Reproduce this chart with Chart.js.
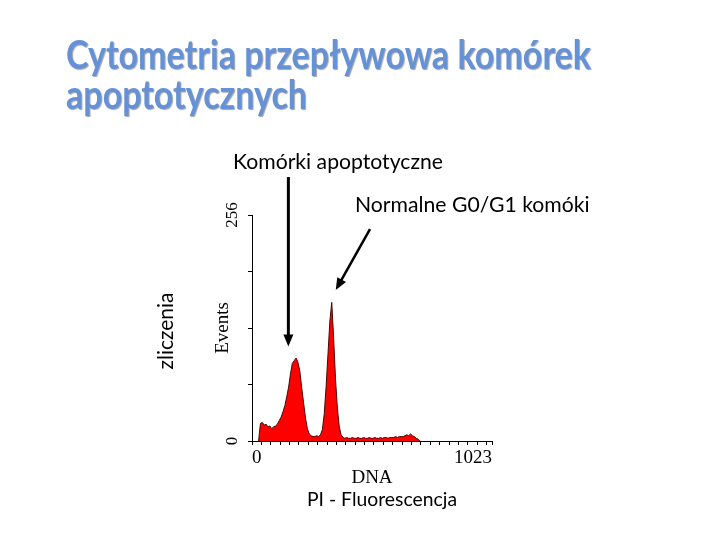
<!DOCTYPE html>
<html>
<head>
<meta charset="utf-8">
<script src="https://cdn.jsdelivr.net/npm/chart.js@4.4.1/dist/chart.umd.min.js"></script>
<style>
  html, body { margin: 0; padding: 0; background: #fff; }
  #wrap { width: 720px; height: 540px; }
</style>
</head>
<body>
<div id="wrap"><canvas id="myChart" width="720" height="540"></canvas></div>
<script>
// DNA histogram (PI fluorescence), bins of 8 channels, value = events per bin
var binStart = 24;
var binWidth = 8;
var counts = [
  0, 20, 21, 18, 19, 16, 17, 14, 16, 17,
  19, 23, 27, 33, 40, 50, 61, 76, 88, 91,
  94, 89, 79, 60, 43, 26, 14, 8, 6, 5,
  5, 6, 5, 7, 13, 31, 62, 99, 136, 157,
  116, 70, 37, 16, 7, 4, 3, 4, 3, 3,
  4, 3, 3, 4, 3, 3, 4, 3, 3, 4,
  3, 3, 4, 3, 3, 4, 3, 4, 4, 3,
  4, 4, 4, 5, 4, 5, 5, 5, 6, 7,
  6, 8, 6, 5, 3, 2, 0
];
var xMax = 1023;
var yMax = 256;
var yTickStep = 64;
var xTickStep = 40;
var xTickLabels = ['0', '1023'];
var yTickLabels = ['0', '256'];

var points = counts.map(function (c, i) {
  return { x: binStart + i * binWidth + binWidth / 2, y: c };
});

var sansFont = 'Lato, "Open Sans", sans-serif';
var serifFont = '"Liberation Serif", "DejaVu Serif", serif';

function fitText(ctx, text, x, y, width, sx) {
  // squeeze text horizontally so it matches the width of the original slide font
  var w = ctx.measureText(text).width;
  var s = sx || width / w;
  ctx.save();
  ctx.translate(x, y);
  ctx.scale(s, 1);
  ctx.fillText(text, 0, 0);
  ctx.restore();
  return s;
}

function arrow(ctx, x1, y1, x2, y2, lw) {
  var a = Math.atan2(y2 - y1, x2 - x1);
  var len = 12, half = 5;
  ctx.save();
  ctx.strokeStyle = '#000';
  ctx.fillStyle = '#000';
  ctx.lineWidth = lw;
  ctx.beginPath();
  ctx.moveTo(x1, y1);
  ctx.lineTo(x2 - Math.cos(a) * len * 0.8, y2 - Math.sin(a) * len * 0.8);
  ctx.stroke();
  ctx.beginPath();
  ctx.moveTo(x2, y2);
  ctx.lineTo(x2 - Math.cos(a) * len - Math.sin(a) * half, y2 - Math.sin(a) * len + Math.cos(a) * half);
  ctx.lineTo(x2 - Math.cos(a) * len + Math.sin(a) * half, y2 - Math.sin(a) * len - Math.cos(a) * half);
  ctx.closePath();
  ctx.fill();
  ctx.restore();
}

var slideText = {
  id: 'slideText',
  beforeDraw: function (chart) {
    var ctx = chart.ctx;
    ctx.save();
    ctx.fillStyle = '#fff';
    ctx.fillRect(0, 0, chart.width, chart.height);
    ctx.restore();
  },
  afterDraw: function (chart) {
    var ctx = chart.ctx;
    var xs = chart.scales.x, ys = chart.scales.y;
    ctx.save();
    ctx.textBaseline = 'alphabetic';
    ctx.textAlign = 'left';

    // slide title
    ctx.font = 'bold 40px ' + sansFont;
    ctx.fillStyle = '#6592d6';
    ctx.shadowColor = 'rgba(0,0,0,0.35)';
    ctx.shadowOffsetX = 1;
    ctx.shadowOffsetY = 1;
    ctx.shadowBlur = 1;
    var s = fitText(ctx, 'Cytometria przepływowa komórek', 66, 69, 525);
    fitText(ctx, 'apoptotycznych', 66, 109, 0, s);
    ctx.shadowColor = 'transparent';

    // annotations
    ctx.fillStyle = '#000';
    ctx.font = '22px ' + sansFont;
    var s2 = fitText(ctx, 'Komórki apoptotyczne', 233, 169, 210);
    fitText(ctx, 'Normalne G0/G1 komóki', 355, 212, 0, s2);
    ctx.font = '20px ' + sansFont;
    fitText(ctx, 'PI - Fluorescencja', 307, 506, 150);

    ctx.save();
    ctx.translate(173, 331);
    ctx.rotate(-Math.PI / 2);
    ctx.textAlign = 'center';
    ctx.font = '21px ' + sansFont;
    ctx.fillText('zliczenia', 0, 0);
    ctx.restore();

    // arrows anchored in data space
    arrow(ctx, xs.getPixelForValue(155), ys.getPixelForValue(299),
      xs.getPixelForValue(155), ys.getPixelForValue(107), 3);
    arrow(ctx, xs.getPixelForValue(503), ys.getPixelForValue(240),
      xs.getPixelForValue(357), ys.getPixelForValue(171), 2.5);
    ctx.restore();
  }
};

var ctx = document.getElementById('myChart').getContext('2d');
var myChart = new Chart(ctx, {
  type: 'line',
  data: {
    datasets: [{
      label: 'Events',
      data: points,
      parsing: false,
      borderColor: '#4a0606',
      borderWidth: 1,
      backgroundColor: '#ff0000',
      fill: 'origin',
      pointRadius: 0,
      tension: 0
    }]
  },
  options: {
    responsive: false,
    animation: false,
    layout: { padding: { left: 212, right: 228, top: 215, bottom: 51 } },
    plugins: {
      legend: { display: false },
      tooltip: { enabled: false }
    },
    scales: {
      x: {
        type: 'linear',
        min: 0,
        max: xMax,
        border: { display: true, color: '#000', width: 1 },
        grid: { drawOnChartArea: false, drawTicks: true, tickLength: 4, color: '#000' },
        afterBuildTicks: function (scale) {
          var t = [];
          for (var v = 0; v < xMax; v += xTickStep) t.push({ value: v });
          t.push({ value: xMax });
          scale.ticks = t;
        },
        ticks: {
          autoSkip: false,
          maxRotation: 0,
          align: 'inner',
          padding: 2,
          color: '#000',
          font: { family: serifFont, size: 19 },
          callback: function (v) {
            var l = String(v);
            return xTickLabels.indexOf(l) >= 0 ? l : '';
          }
        },
        title: {
          display: true,
          text: 'DNA',
          color: '#000',
          padding: 0,
          font: { family: serifFont, size: 19 }
        },
        afterFit: function (scale) { scale.height = 48; }
      },
      y: {
        min: 0,
        max: yMax,
        border: { display: true, color: '#000', width: 1 },
        grid: { drawOnChartArea: false, drawTicks: true, tickLength: 4, color: '#000' },
        ticks: {
          stepSize: yTickStep,
          minRotation: 90,
          maxRotation: 90,
          crossAlign: 'center',
          padding: 3,
          color: '#000',
          font: { family: serifFont, size: 17 },
          callback: function (v) {
            var l = String(v);
            return yTickLabels.indexOf(l) >= 0 ? l : '';
          }
        },
        title: {
          display: true,
          text: 'Events',
          color: '#000',
          padding: 0,
          font: { family: serifFont, size: 19 }
        },
        afterFit: function (scale) { scale.width = 40; }
      }
    }
  },
  plugins: [slideText]
});
</script>
</body>
</html>
